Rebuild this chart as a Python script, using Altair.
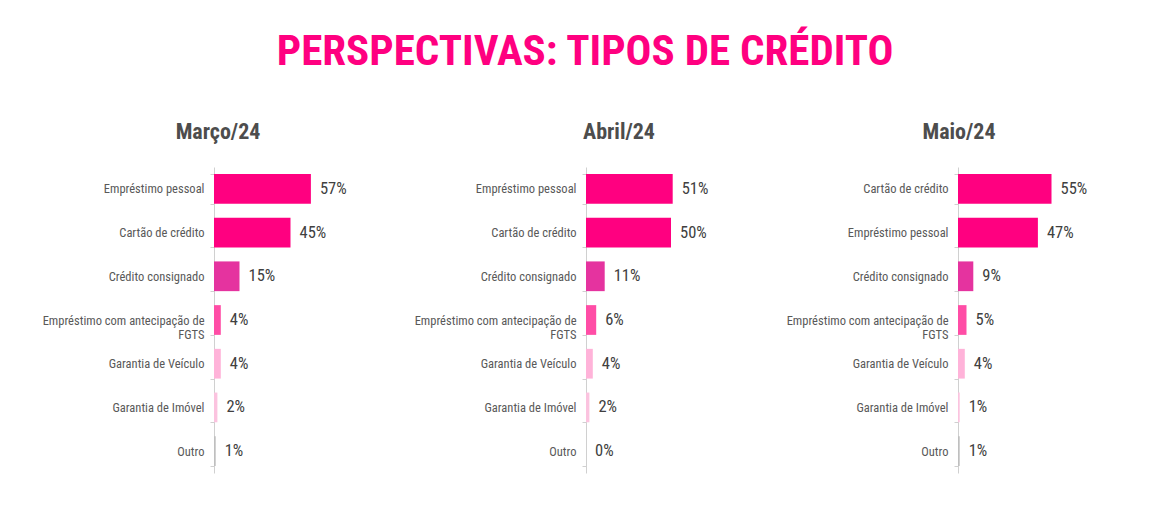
import altair as alt
import pandas as pd

main_title = "PERSPECTIVAS: TIPOS DE CRÉDITO"
months = ["Março/24", "Abril/24", "Maio/24"]

cats_mar = ["Empréstimo pessoal", "Cartão de crédito", "Crédito consignado",
            "Empréstimo com antecipação de|FGTS", "Garantia de Veículo",
            "Garantia de Imóvel", "Outro"]
vals_mar = [57, 45, 15, 4, 4, 2, 1]

cats_abr = ["Empréstimo pessoal", "Cartão de crédito", "Crédito consignado",
            "Empréstimo com antecipação de|FGTS", "Garantia de Veículo",
            "Garantia de Imóvel", "Outro"]
vals_abr = [51, 50, 11, 6, 4, 2, 0]

cats_mai = ["Cartão de crédito", "Empréstimo pessoal", "Crédito consignado",
            "Empréstimo com antecipação de|FGTS", "Garantia de Veículo",
            "Garantia de Imóvel", "Outro"]
vals_mai = [55, 47, 9, 5, 4, 1, 1]

rank_colors = ["#FF0080", "#FF0080", "#E5339F", "#FF4DA6", "#FFB3D9", "#FBC3DF", "#BFBFBF"]

FONT = "Roboto Condensed, Liberation Sans Narrow, Roboto, sans-serif"
title_dx = [-81, -52, -84]


def panel(month, cats, vals, dx):
    df = pd.DataFrame({"cat": cats, "v": vals, "rank": list(range(len(cats)))})
    df["lbl"] = [f"{v}%" for v in vals]
    y = alt.Y("cat:N", sort=cats,
              scale=alt.Scale(paddingInner=0.32, paddingOuter=0.16),
              axis=alt.Axis(title=None, labelExpr="split(datum.label, '|')",
                            tickBand="extent", ticks=True, tickSize=4,
                            tickColor="#d0d0d0", domainColor="#d0d0d0",
                            labelFont=FONT, labelFontSize=12.5, labelColor="#595959",
                            labelPadding=6, minExtent=170, maxExtent=170,
                            labelLimit=220))
    x = alt.X("v:Q", scale=alt.Scale(domain=[0, 100]), axis=None)
    bars = alt.Chart(df).mark_bar().encode(
        x=x, y=y,
        color=alt.Color("rank:O", scale=alt.Scale(domain=list(range(len(cats))), range=rank_colors),
                        legend=None))
    text = alt.Chart(df).mark_text(align="left", dx=9, fontSize=16.5, color="#404040",
                                   font=FONT).encode(x=x, y=y, text="lbl:N")
    return (bars + text).properties(
        width=170, height=306,
        title=alt.TitleParams(month, dx=dx, fontSize=22, font=FONT, fontWeight="bold",
                              color="#4D4D4D", offset=17))


chart = alt.hconcat(
    panel(months[0], cats_mar, vals_mar, title_dx[0]),
    panel(months[1], cats_abr, vals_abr, title_dx[1]),
    panel(months[2], cats_mai, vals_mai, title_dx[2]),
    spacing=30,
).properties(
    title=alt.TitleParams(main_title, fontSize=43, font=FONT, fontWeight="bold",
                          color="#FF0080", anchor="middle", offset=47),
    padding={"left": 34, "top": 23, "right": 5, "bottom": 5},
).configure(background="white").configure_view(stroke=None)

chart.save("out.html", embed_options={"renderer": "svg", "actions": False})
